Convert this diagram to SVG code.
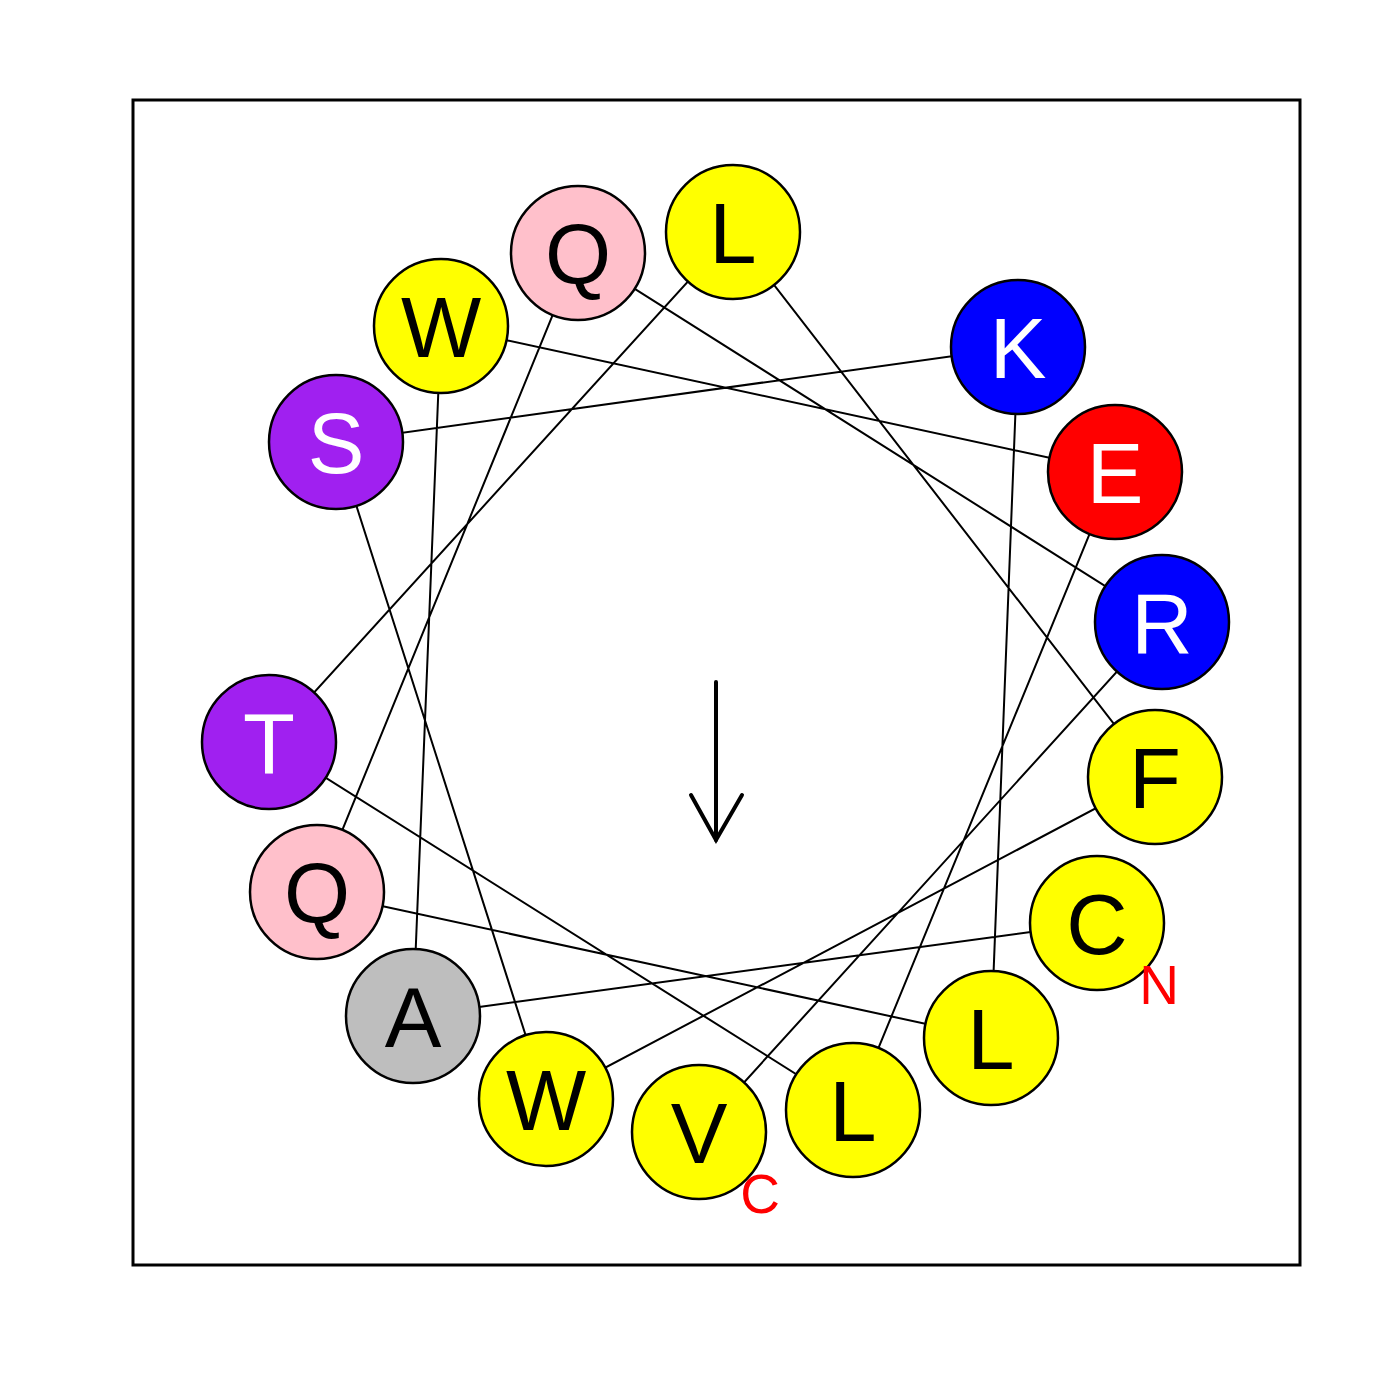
<svg xmlns="http://www.w3.org/2000/svg" width="1400" height="1400" viewBox="0 0 1400 1400">
<style>
.res circle{stroke:#000;stroke-width:2.5}
.res text{font-family:"Liberation Sans",Arial,sans-serif;font-size:85px;text-anchor:middle}
.y{fill:#FFFF00}.p{fill:#FFC0CB}.b{fill:#0000FF}.r{fill:#FF0000}.v{fill:#A020F0}.g{fill:#BEBEBE}
.dk{fill:#000}.lt{fill:#fff}
.term{font-family:"Liberation Sans",Arial,sans-serif;font-size:55px;fill:#FF0000;text-anchor:middle}
</style>
<rect x="0" y="0" width="1400" height="1400" fill="#fff"/>
<rect x="133" y="100" width="1167" height="1165" fill="none" stroke="#000" stroke-width="3"/>
<g id="connectors" stroke="#000" stroke-width="2" fill="none">
<polyline points="1097,923 413,1016 441,326 1115,472 853,1110 269,742 733,232 1155,777 546,1099 336,442 1018,347 991,1038 317,892 578,253 1162,622 699,1132"/>
</g>
<g id="res1" class="res"><circle class="y" cx="1097" cy="923" r="67"/><text class="dk" x="1097" y="954">C</text></g>
<g id="res2" class="res"><circle class="g" cx="413" cy="1016" r="67"/><text class="dk" x="413" y="1047">A</text></g>
<g id="res3" class="res"><circle class="y" cx="441" cy="326" r="67"/><text class="dk" x="441" y="357">W</text></g>
<g id="res4" class="res"><circle class="r" cx="1115" cy="472" r="67"/><text class="lt" x="1115" y="503">E</text></g>
<g id="res5" class="res"><circle class="y" cx="853" cy="1110" r="67"/><text class="dk" x="853" y="1141">L</text></g>
<g id="res6" class="res"><circle class="v" cx="269" cy="742" r="67"/><text class="lt" x="269" y="773">T</text></g>
<g id="res7" class="res"><circle class="y" cx="733" cy="232" r="67"/><text class="dk" x="733" y="263">L</text></g>
<g id="res8" class="res"><circle class="y" cx="1155" cy="777" r="67"/><text class="dk" x="1155" y="808">F</text></g>
<g id="res9" class="res"><circle class="y" cx="546" cy="1099" r="67"/><text class="dk" x="546" y="1130">W</text></g>
<g id="res10" class="res"><circle class="v" cx="336" cy="442" r="67"/><text class="lt" x="336" y="473">S</text></g>
<g id="res11" class="res"><circle class="b" cx="1018" cy="347" r="67"/><text class="lt" x="1018" y="378">K</text></g>
<g id="res12" class="res"><circle class="y" cx="991" cy="1038" r="67"/><text class="dk" x="991" y="1069">L</text></g>
<g id="res13" class="res"><circle class="p" cx="317" cy="892" r="67"/><text class="dk" x="317" y="923">Q</text></g>
<g id="res14" class="res"><circle class="p" cx="578" cy="253" r="67"/><text class="dk" x="578" y="284">Q</text></g>
<g id="res15" class="res"><circle class="b" cx="1162" cy="622" r="67"/><text class="lt" x="1162" y="653">R</text></g>
<g id="res16" class="res"><circle class="y" cx="699" cy="1132" r="67"/><text class="dk" x="699" y="1163">V</text></g>
<text class="term" x="1159" y="1004">N</text>
<text class="term" x="760" y="1213">C</text>
<g id="moment" stroke="#000" stroke-width="4" fill="none" stroke-linecap="round">
<line x1="716" y1="682" x2="716" y2="840"/>
<polyline points="691,795 716,840 742,795"/>
</g>
</svg>
